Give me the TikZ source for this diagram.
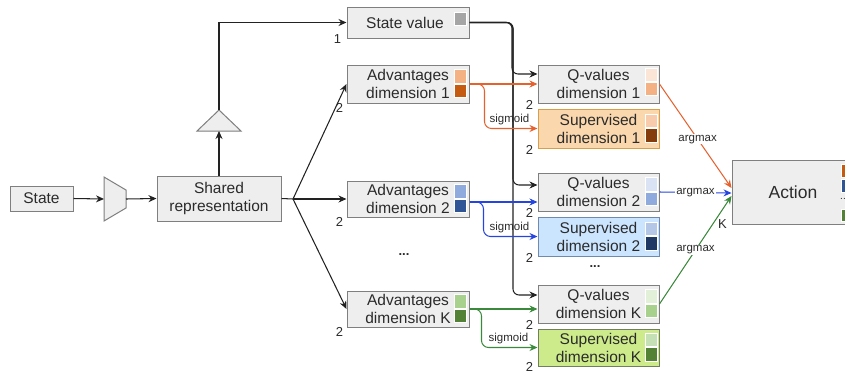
\documentclass[tikz,border=0pt]{standalone}
\usepackage{fontspec}
\setmainfont{Liberation Sans}
\usetikzlibrary{arrows.meta,calc}
\definecolor{boxfill}{HTML}{EEEEEE}
\definecolor{boxline}{HTML}{7F7F7F}
\definecolor{txt}{HTML}{2B2B2B}
\definecolor{lineblk}{HTML}{222222}
\definecolor{ocol}{HTML}{E5622F}
\definecolor{bcol}{HTML}{2645E0}
\definecolor{gcol}{HTML}{3B8A3B}
\definecolor{sofill}{HTML}{FAD7AC}
\definecolor{soline}{HTML}{D6A04A}
\definecolor{sbfill}{HTML}{CCE5FF}
\definecolor{sbline}{HTML}{6F8AAD}
\definecolor{sgfill}{HTML}{CDEB8B}
\definecolor{sgline}{HTML}{6F7F60}
\definecolor{cgray}{HTML}{A5A5A5}
\definecolor{o1}{HTML}{FBE5D6}
\definecolor{o2}{HTML}{F8CBAD}
\definecolor{o3}{HTML}{F4B183}
\definecolor{o4}{HTML}{C55A11}
\definecolor{o5}{HTML}{843C0C}
\definecolor{b1}{HTML}{DAE3F3}
\definecolor{b2}{HTML}{B4C7E7}
\definecolor{b3}{HTML}{8FAADC}
\definecolor{b4}{HTML}{2F5597}
\definecolor{b5}{HTML}{203864}
\definecolor{g1}{HTML}{E2F0D9}
\definecolor{g2}{HTML}{C5E0B4}
\definecolor{g3}{HTML}{A9D18E}
\definecolor{g4}{HTML}{538135}
\definecolor{g5}{HTML}{548235}
\begin{document}
\begin{tikzpicture}[x=1pt,y=-1pt,
 box/.style={draw=boxline,fill=boxfill,line width=1pt,inner sep=0pt,align=center,text=txt,font=\fontsize{15.5}{18}\selectfont},
 num/.style={text=txt,font=\fontsize{13}{13}\selectfont,inner sep=0pt},
 elab/.style={text=txt,font=\fontsize{11.5}{12}\selectfont,inner sep=1pt},
 sq/.style={draw=white,line width=0.6pt,minimum width=12pt,minimum height=13.5pt,inner sep=0pt},
 conn/.style={draw=lineblk,line width=1.05pt},
 oline/.style={draw=ocol,line width=1.05pt},
 bline/.style={draw=bcol,line width=1.05pt},
 gline/.style={draw=gcol,line width=1.05pt},
 arr/.style={-{Stealth[length=8pt,width=7pt]}},
]
\useasboundingbox (0,0) rectangle (845,373);
\clip (0,0) rectangle (845,373);

% left part
\node[box,minimum width=63pt,minimum height=25pt] (state) at (41.5,198.5) {State};
\path[draw=boxline,fill=boxfill,line width=1pt] (104,177) -- (126,190) -- (126,208) -- (104,221) -- cycle;
\coordinate (trapL) at (104,199);
\coordinate (trapR) at (126,199);
\node[box,minimum width=124pt,minimum height=45pt] (shared) at (219,198.5) {Shared\\representation};
\path[draw=boxline,fill=boxfill,line width=1pt] (197,131) -- (241,131) -- (219,110) -- cycle;
\coordinate (triB) at (219,131);
\coordinate (triT) at (219,110);
\coordinate (fan) at (293,199);

% middle column
\node[box,minimum width=122pt,minimum height=31pt] (sv) at (408,22.5) {State value\hspace{6pt}};
\node[box,minimum width=122pt,minimum height=38pt] (adv1) at (408,84) {Advantages\\dimension 1};
\node[box,minimum width=122pt,minimum height=36pt] (adv2) at (408,199) {Advantages\\dimension 2};
\node[box,minimum width=122pt,minimum height=36pt] (advK) at (408,309) {Advantages\\dimension K};
\node[text=txt,font=\bfseries\fontsize{13}{13}\selectfont] (dots1) at (404,255) {...};

% right column
\node[box,minimum width=121pt,minimum height=38pt] (q1) at (598.5,84) {Q-values\\dimension 1};
\node[box,fill=sofill,draw=soline,minimum width=121pt,minimum height=39pt] (s1) at (598.5,128.5) {Supervised\\dimension 1};
\node[box,minimum width=121pt,minimum height=38pt] (q2) at (598.5,192) {Q-values\\dimension 2};
\node[box,fill=sbfill,draw=sbline,minimum width=121pt,minimum height=39pt] (s2) at (598.5,236.5) {Supervised\\dimension 2};
\node[text=txt,font=\bfseries\fontsize{13}{13}\selectfont] (dots2) at (595,267) {...};
\node[box,minimum width=121pt,minimum height=38pt] (qK) at (598.5,304) {Q-values\\dimension K};
\node[box,fill=sgfill,draw=sgline,minimum width=121pt,minimum height=37pt] (sK) at (598.5,347.5) {Supervised\\dimension K};

\node[box,minimum width=122pt,minimum height=64pt,font=\fontsize{17.5}{20}\selectfont] (action) at (793,192) {Action};

% squares
\node[sq,fill=cgray] (svs) at ($(sv.east)+(-9,-3.5)$) {};
\node[sq,fill=o3] (adv1a) at ($(adv1.east)+(-9,-7.5)$) {};
\node[sq,fill=o4] (adv1b) at ($(adv1.east)+(-9,7)$) {};
\node[sq,fill=b3] (adv2a) at ($(adv2.east)+(-9,-7.5)$) {};
\node[sq,fill=b4] (adv2b) at ($(adv2.east)+(-9,7)$) {};
\node[sq,fill=g3] (advKa) at ($(advK.east)+(-9,-7.5)$) {};
\node[sq,fill=g4] (advKb) at ($(advK.east)+(-9,7)$) {};
\node[sq,fill=o1] (q1a) at ($(q1.east)+(-8,-9)$) {};
\node[sq,fill=o3] (q1b) at ($(q1.east)+(-8,5)$) {};
\node[sq,fill=o2] (s1a) at ($(s1.east)+(-8,-7.5)$) {};
\node[sq,fill=o5] (s1b) at ($(s1.east)+(-8,7)$) {};
\node[sq,fill=b1] (q2a) at ($(q2.east)+(-8,-7.5)$) {};
\node[sq,fill=b3] (q2b) at ($(q2.east)+(-8,7)$) {};
\node[sq,fill=b2] (s2a) at ($(s2.east)+(-8,-7.5)$) {};
\node[sq,fill=b5] (s2b) at ($(s2.east)+(-8,7)$) {};
\node[sq,fill=g1] (qKa) at ($(qK.east)+(-8,-7.5)$) {};
\node[sq,fill=g3] (qKb) at ($(qK.east)+(-8,7)$) {};
\node[sq,fill=g2] (sKa) at ($(sK.east)+(-8,-7.5)$) {};
\node[sq,fill=g5] (sKb) at ($(sK.east)+(-8,7)$) {};
\node[sq,fill=o4,minimum height=12.5pt] (acta) at (847,171) {};
\node[sq,fill=b4,minimum height=12.5pt] (actb) at (847,186) {};
\node[text=txt,font=\fontsize{10}{10}\selectfont,inner sep=0pt] (actd) at (843,199) {..};
\node[sq,fill=g4,minimum height=12.5pt] (actc) at (847,215.5) {};

% left connectors
\draw[conn,arr] (state.east) -- (trapL);
\draw[conn,arr] (trapR) -- (shared.west);
\draw[conn,arr] (shared.north) -- (triB);
\draw[conn,arr] (triT) |- (sv.west);
\draw[conn] (shared.east) -- (fan);
\draw[conn,arr] (fan) -- (adv1.west);
\draw[conn,arr] (fan) -- (adv2.west);
\draw[conn,arr] (fan) -- (advK.west);

% state value bus
\draw[conn,arr,rounded corners=6] (sv.east) -| ($(q1.west)+(-25.5,-10)$) -- ($(q1.west)+(0,-10)$);
\draw[conn,arr,rounded corners=6] (sv.east) -| ($(q2.west)+(-24.5,-7)$) -- ($(q2.west)+(0,-7)$);
\draw[conn,arr,rounded corners=6] (sv.east) -| ($(qK.west)+(-24.5,-9)$) -- ($(qK.west)+(0,-9)$);

% coloured connectors
\draw[oline,arr] (adv1.east) -- (q1.west);
\draw[oline,arr,rounded corners=7] (adv1.east) -| ($(s1.west)+(-53,0)$) -- (s1.west);
\draw[bline,arr] ($(adv2.east)+(0,3)$) -- ($(q2.west)+(0,10)$);
\draw[bline,arr,rounded corners=7] ($(adv2.east)+(0,3)$) -| ($(s2.west)+(-54,0)$) -- (s2.west);
\draw[gline,arr] (advK.east) -- ($(qK.west)+(0,5)$);
\draw[gline,arr,rounded corners=7] (advK.east) -| ($(sK.west)+(-56,0)$) -- (sK.west);

\node[elab] (sig1) at ($(s1.west)+(-28,-8.5)$) {sigmoid};
\node[elab] (sig2) at ($(s2.west)+(-28,-8.5)$) {sigmoid};
\node[elab] (sig3) at ($(sK.west)+(-29,-8.5)$) {sigmoid};

\draw[oline,arr] (q1.east) -- node[elab,fill=white,pos=0.53] (am1) {argmax} ($(action.west)+(0,-4)$);
\draw[bline,arr] (q2.east) -- node[elab,fill=white] (am2) {argmax} ($(action.west)+(0,1)$);
\draw[gline,arr] (qK.east) -- node[elab,fill=white] (am3) {argmax} ($(action.west)+(0,4)$);

% numbers
\node[num] (n1) at ($(sv.south west)+(-9,1)$) {1};
\node[num] (n2) at ($(adv1.south west)+(-7,4)$) {2};
\node[num] (n3) at ($(adv2.south west)+(-7,4)$) {2};
\node[num] (n4) at ($(advK.south west)+(-7,4)$) {2};
\node[num] (n5) at ($(q1.south west)+(-8,1)$) {2};
\node[num] (n6) at ($(s1.south west)+(-8,1)$) {2};
\node[num] (n7) at ($(q2.south west)+(-8,1)$) {2};
\node[num] (n8) at ($(s2.south west)+(-8,1)$) {2};
\node[num] (n9) at ($(qK.south west)+(-8,1)$) {2};
\node[num] (n10) at ($(sK.south west)+(-8,0.5)$) {2};
\node[num] (nK) at ($(action.south west)+(-9,0)$) {K};
\end{tikzpicture}
\end{document}
